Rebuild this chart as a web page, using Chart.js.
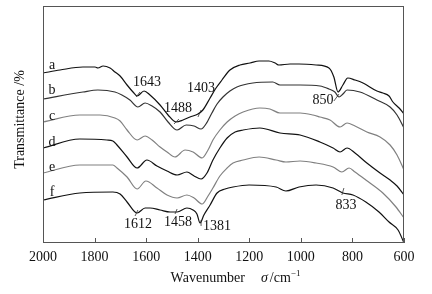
<!DOCTYPE html>
<html>
<head>
<meta charset="utf-8">
<script src="https://cdn.jsdelivr.net/npm/chart.js@4.4.1/dist/chart.umd.min.js"></script>
<style>
  html, body { margin: 0; padding: 0; background: #fff; }
  #wrap { width: 432px; height: 294px; }
</style>
</head>
<body>
<div id="wrap"><canvas id="ftir"></canvas></div>
<script>
// spettri FTIR, curve a..f (unita' arbitrarie)
var waveA = [2000,1934,1845,1798,1787,1767,1740,1721,1701,1674,1651,1635,1608,1585,1546,1515,1484,1457,1430,1399,1380,1352,1329,1306,1275,1236,1197,1162,1124,1100,1085,1042,1007,941,891,872,856,837,818,790,759,705,682,658,643,619,600];
var transA = [170,173,176,176,175,177,175,171,167,158,151,147,152,148,138,128,121,123,126,129,133,145,155,163,173,178,180,182,182,180,178,179,179,178,175,166,151,158,165,163,160,152,150,147,141,135,129];

var waveB = [2000,1845,1787,1721,1694,1663,1632,1604,1577,1546,1515,1480,1445,1414,1387,1368,1345,1325,1302,1275,1248,1186,1109,1081,1003,926,891,868,852,837,821,771,705,654,627,600];
var transB = [144,151,153,151,148,143,136,140,137,131,121,113,118,117,114,119,130,139,146,152,156,160,161,158,158,157,154,151,146,149,153,151,143,136,128,115];

var waveC = [2000,1857,1779,1721,1701,1674,1635,1604,1577,1546,1519,1488,1449,1418,1383,1360,1341,1314,1286,1255,1224,1159,1120,1081,1003,953,926,887,848,821,790,744,693,654,627,600];
var transC = [121,128,128,125,122,113,103,107,103,96,91,86,93,91,85,93,103,113,121,127,131,135,134,130,130,128,126,123,116,120,117,111,106,98,88,73];

var waveD = [2000,1857,1752,1729,1713,1674,1635,1597,1558,1519,1480,1442,1414,1387,1364,1341,1314,1286,1255,1224,1159,1081,1003,926,875,848,821,790,744,693,654,627,600];
var transD = [95,104,103,102,98,86,75,83,77,72,68,71,67,64,70,83,95,105,111,113,115,110,108,101,95,91,95,90,80,70,63,57,48];

var waveE = [2000,1857,1729,1713,1674,1635,1601,1558,1519,1480,1442,1414,1383,1360,1341,1314,1286,1263,1224,1162,1096,1058,1003,941,875,841,813,790,748,682,631,600];
var transE = [70,78,78,75,66,54,62,55,48,45,48,45,39,47,55,67,75,80,83,86,83,81,82,80,76,71,75,71,63,50,36,25];

var waveF = [2000,1857,1729,1701,1674,1635,1604,1585,1546,1507,1480,1442,1418,1403,1391,1376,1352,1325,1294,1263,1201,1096,1058,1007,941,875,837,798,748,697,658,623,600];
var transF = [43,50,51,49,41,30,35,35,33,31,31,35,33,29,20,28,38,50,54,56,58,56,52,56,58,55,50,48,41,31,21,13,0];

var curveNames = ['a', 'b', 'c', 'd', 'e', 'f'];
var curveColors = ['#111', '#333', '#808080', '#111', '#808080', '#111'];
var nameWave = [1965, 1965, 1965, 1965, 1965, 1965];
var nameT = [178, 153, 127, 101, 76, 51];

// etichette dei picchi
var peakText = ['1643', '1488', '1403', '850', '1612', '1458', '1381', '833'];
var peakTextWave = [1597, 1476, 1387, 914, 1632, 1476, 1325, 825];
var peakTextT = [161, 135, 155, 143, 19, 21, 17, 38];
var tickFromWave = [1639, 1492, 1399, 872, 1643, 1488, 1387, 841];
var tickFromT = [146, 119, 126, 142, 27, 29, 23, 48];
var tickToWave = [1624, 1473, 1387, 852, 1632, 1480, 1387, 833];
var tickToT = [151, 124, 133, 149, 33, 34, 17, 55];

var xTicks = [2000, 1800, 1600, 1400, 1200, 1000, 800, 600];

function toPoints(w, t) {
  var pts = [];
  for (var i = 0; i < w.length; i++) {
    pts.push({ x: w[i], y: t[i] });
  }
  return pts;
}

var allWaves = [waveA, waveB, waveC, waveD, waveE, waveF];
var allTrans = [transA, transB, transC, transD, transE, transF];

var datasets = [];
for (var k = 0; k < 6; k++) {
  datasets.push({
    label: curveNames[k],
    data: toPoints(allWaves[k], allTrans[k]),
    borderColor: curveColors[k],
    borderWidth: 1.2,
    pointRadius: 0,
    fill: false,
    cubicInterpolationMode: 'monotone'
  });
}

var serif = '"Liberation Serif", "Times New Roman", serif';

// disegno cornice, tacche, nomi curve, etichette picchi e titoli assi
var decorPlugin = {
  id: 'decor',
  afterDraw: function (chart) {
    var ctx = chart.ctx;
    var area = chart.chartArea;
    var sx = chart.scales.x;
    var sy = chart.scales.y;
    ctx.save();

    ctx.strokeStyle = '#555';
    ctx.lineWidth = 1;
    ctx.strokeRect(area.left + 0.5, area.top + 0.5, area.right - area.left - 1, area.bottom - area.top - 1);

    // tacche verso l'interno
    for (var i = 0; i < xTicks.length; i++) {
      var px = Math.round(sx.getPixelForValue(xTicks[i])) + 0.5;
      ctx.beginPath();
      ctx.moveTo(px, area.bottom);
      ctx.lineTo(px, area.bottom - 5);
      ctx.stroke();
    }

    ctx.fillStyle = '#111';
    ctx.font = '14px ' + serif;
    ctx.textAlign = 'center';
    ctx.textBaseline = 'middle';
    for (var j = 0; j < curveNames.length; j++) {
      ctx.fillText(curveNames[j], sx.getPixelForValue(nameWave[j]), sy.getPixelForValue(nameT[j]));
    }

    for (var p = 0; p < peakText.length; p++) {
      ctx.fillText(peakText[p], sx.getPixelForValue(peakTextWave[p]), sy.getPixelForValue(peakTextT[p]));
      ctx.strokeStyle = '#333';
      ctx.lineWidth = 0.8;
      ctx.beginPath();
      ctx.moveTo(sx.getPixelForValue(tickFromWave[p]), sy.getPixelForValue(tickFromT[p]));
      ctx.lineTo(sx.getPixelForValue(tickToWave[p]), sy.getPixelForValue(tickToT[p]));
      ctx.stroke();
    }

    // titolo asse y
    ctx.save();
    ctx.translate(area.left - 23, (area.top + area.bottom) / 2 - 5);
    ctx.rotate(-Math.PI / 2);
    ctx.fillText('Transmittance /%', 0, 0);
    ctx.restore();

    // titolo asse x
    var base = area.bottom + 39;
    var cx = (area.left + area.right) / 2 + 12;
    ctx.textAlign = 'left';
    ctx.textBaseline = 'alphabetic';
    ctx.font = '14px ' + serif;
    var w1 = ctx.measureText('Wavenumber').width;
    ctx.font = 'italic 14px ' + serif;
    var w2 = ctx.measureText('σ').width;
    ctx.font = '14px ' + serif;
    var w3 = ctx.measureText('/cm').width;
    ctx.font = '9px ' + serif;
    var w4 = ctx.measureText('−1').width;
    var gap = 16;
    var total = w1 + gap + w2 + 2 + w3 + w4;
    var x0 = cx - total / 2;
    ctx.font = '14px ' + serif;
    ctx.fillText('Wavenumber', x0, base);
    x0 += w1 + gap;
    ctx.font = 'italic 14px ' + serif;
    ctx.fillText('σ', x0, base);
    x0 += w2 + 2;
    ctx.font = '14px ' + serif;
    ctx.fillText('/cm', x0, base);
    x0 += w3;
    ctx.font = '9px ' + serif;
    ctx.fillText('−1', x0, base - 6);

    ctx.restore();
  }
};

var chart = new Chart(document.getElementById('ftir'), {
  type: 'line',
  data: { datasets: datasets },
  options: {
    responsive: true,
    maintainAspectRatio: false,
    animation: false,
    layout: { padding: { left: 43, right: 28, top: 6, bottom: 0 } },
    plugins: {
      legend: { display: false },
      tooltip: { enabled: false }
    },
    scales: {
      x: {
        type: 'linear',
        reverse: true,
        min: 600,
        max: 2000,
        afterFit: function (s) { s.height = 51; },
        afterBuildTicks: function (s) {
          s.ticks = xTicks.map(function (v) { return { value: v }; });
        },
        grid: { display: false, drawTicks: false },
        border: { display: false },
        ticks: {
          padding: 6,
          color: '#111',
          maxRotation: 0,
          autoSkip: false,
          font: { family: serif, size: 14 },
          callback: function (v) { return String(v); }
        }
      },
      y: {
        display: false,
        min: 0,
        max: 237
      }
    }
  },
  plugins: [decorPlugin]
});
</script>
</body>
</html>
